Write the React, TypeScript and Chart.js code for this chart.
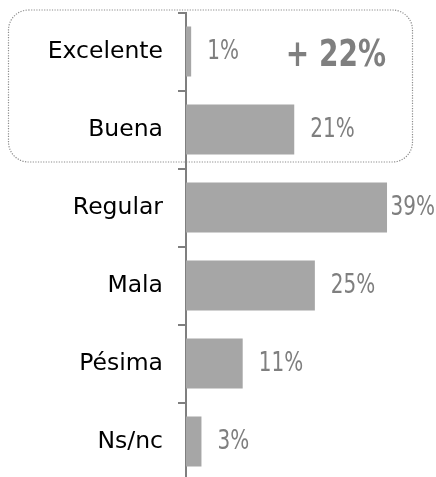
import React, { useEffect, useRef } from "react";
import { Chart, registerables } from "chart.js";

Chart.register(...registerables);

const categories = ["Excelente", "Buena", "Regular", "Mala", "Pésima", "Ns/nc"];
const values = [1, 21, 39, 25, 11, 3];
const valueLabels = ["1%", "21%", "39%", "25%", "11%", "3%"];
const highlightText = "+ 22%";
const highlightedCount = 2;

const FONT = "'DejaVu Sans', sans-serif";
const GRAY = "#7f7f7f";
const TEXT_STRETCH = 1.33;

function drawStretched(ctx: CanvasRenderingContext2D, txt: string, x: number, y: number) {
  ctx.save();
  ctx.translate(x, y);
  ctx.scale(1, TEXT_STRETCH);
  ctx.fillText(txt, 0, 0);
  ctx.restore();
}

const overlayPlugin = {
  id: "overlay",
  beforeDraw(chart: any) {
    const ctx = chart.ctx;
    const meta = chart.getDatasetMeta(0);
    const yScale = chart.scales.y;
    const first = meta.data[0];
    const last = meta.data[highlightedCount - 1];
    const half = (yScale.getPixelForValue(1) - yScale.getPixelForValue(0)) / 2;
    const top = first.y - half - 2.5;
    const bottom = last.y + half - 6.5;
    const left = 8.5;
    const right = 412.5;
    const r = 20;
    ctx.save();
    ctx.strokeStyle = "#8c8c8c";
    ctx.lineWidth = 1.2;
    ctx.setLineDash([1.2, 1.4]);
    ctx.beginPath();
    ctx.moveTo(left + r, top);
    ctx.lineTo(right - r, top);
    ctx.arcTo(right, top, right, top + r, r);
    ctx.lineTo(right, bottom - r);
    ctx.arcTo(right, bottom, right - r, bottom, r);
    ctx.lineTo(left + r, bottom);
    ctx.arcTo(left, bottom, left, bottom - r, r);
    ctx.lineTo(left, top + r);
    ctx.arcTo(left, top, left + r, top, r);
    ctx.closePath();
    ctx.stroke();
    ctx.restore();
  },
  afterDatasetsDraw(chart: any) {
    const ctx = chart.ctx;
    const meta = chart.getDatasetMeta(0);
    const area = chart.chartArea;
    ctx.save();
    ctx.fillStyle = GRAY;
    ctx.textBaseline = "middle";
    ctx.textAlign = "left";
    ctx.font = `20px ${FONT}`;
    meta.data.forEach((bar: any, i: number) => {
      const txt = valueLabels[i];
      const w = ctx.measureText(txt).width;
      const x = Math.min(bar.x + 16, area.right - w - 1);
      drawStretched(ctx, txt, x, bar.y + 1);
    });
    const firstBar = meta.data[0];
    ctx.font = `bold 28px ${FONT}`;
    ctx.textAlign = "right";
    drawStretched(ctx, highlightText, area.right - 50, firstBar.y + 5);
    ctx.restore();
  },
};

export default function App() {
  const canvasRef = useRef<HTMLCanvasElement | null>(null);

  useEffect(() => {
    const canvas = canvasRef.current;
    if (!canvas) return;
    const chart = new Chart(canvas, {
      type: "bar",
      data: {
        labels: categories,
        datasets: [
          {
            data: values,
            backgroundColor: "#a6a6a6",
            borderWidth: 0,
            barPercentage: 0.64,
            categoryPercentage: 1,
          },
        ],
      },
      options: {
        indexAxis: "y",
        animation: false,
        responsive: false,
        layout: { padding: { top: 12.5, bottom: 9.5, left: 0, right: 0 } },
        plugins: {
          legend: { display: false },
          tooltip: { enabled: false },
        },
        scales: {
          x: {
            display: false,
            min: 0,
            max: 48.5,
          },
          y: {
            afterFit(scale: any) {
              scale.width = 186;
              scale.paddingTop = 0;
              scale.paddingBottom = 0;
            },
            border: { display: true, color: GRAY, width: 2 },
            grid: {
              drawOnChartArea: false,
              drawTicks: true,
              tickLength: 8,
              color: GRAY,
              lineWidth: 2,
              offset: true,
            },
            ticks: {
              color: "#000000",
              font: { family: FONT, size: 23.5 },
              padding: 15,
            },
          },
        },
      },
      plugins: [overlayPlugin],
    });
    return () => chart.destroy();
  }, []);

  return (
    <div style={{ position: "fixed", top: 0, left: 0, width: 436, height: 490, background: "#fff" }}>
      <canvas ref={canvasRef} width={436} height={490} style={{ display: "block" }} />
    </div>
  );
}
